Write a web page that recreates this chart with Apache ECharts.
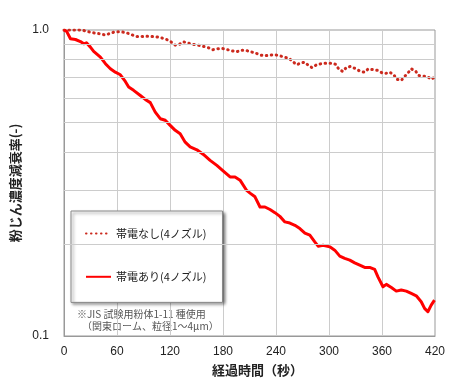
<!DOCTYPE html>
<html><head><meta charset="utf-8">
<script src="https://cdn.jsdelivr.net/npm/echarts@6/dist/echarts.min.js"></script>
<style>html,body{margin:0;padding:0;background:#fff}#c{width:458px;height:392px}</style>
</head><body><div id="c"></div>
<script>
// 帯電あり(4ノズル) — time (s) and decay ratio
const chargedTimes = [0,3,7.3,13,18.6,22.4,25.4,29.9,33.6,41.2,46.9,52.5,58.1,63.8,69.4,73.2,78.8,86.4,92,97.7,103.3,109,114.6,120.2,125.9,131.5,137.2,142.8,150.4,157.8,165.4,173,180.4,188,193.6,199.3,206.8,210.6,216.2,221.9,227.5,233.2,238.8,244.4,250.1,255.7,261.4,267,272.7,278.3,283.9,287.7,293.3,300.9,306.5,312.2,317.8,323.5,329.1,334.8,340.4,346,351.7,355.4,361.1,364.9,370.6,376.2,381.8,387.5,393.1,398.8,404.4,408.2,411.9,415.7,419.4];
const chargedValues = [1.0,0.99,0.936,0.931,0.917,0.901,0.908,0.879,0.851,0.815,0.776,0.747,0.728,0.714,0.679,0.651,0.635,0.611,0.593,0.579,0.539,0.513,0.507,0.488,0.470,0.458,0.430,0.415,0.406,0.392,0.375,0.361,0.346,0.331,0.331,0.323,0.299,0.293,0.285,0.264,0.264,0.259,0.253,0.246,0.236,0.234,0.230,0.2245,0.217,0.2136,0.203,0.1966,0.198,0.1956,0.1908,0.1824,0.1793,0.177,0.1734,0.1704,0.1675,0.1675,0.165,0.156,0.1448,0.1475,0.1441,0.1402,0.1413,0.1402,0.1378,0.1353,0.1294,0.1231,0.120,0.1262,0.131];
// 帯電なし(4ノズル)
const unchargedTimes = [0,11.1,16.7,22.4,29.9,35.6,41.2,46.9,52.5,58.1,63.8,70.2,75.9,81.9,87.5,93.1,98.8,104.4,110.1,115.7,121,125.9,130.4,135.3,140.9,146.6,152.2,157.8,163.5,168.5,173.6,179.3,184.3,189.9,195.6,200.4,205.7,210.6,216.2,221.1,226.4,232,237.7,243.3,249,254.6,258.3,263.3,267.8,272.3,276.8,280.9,285.9,291.5,297.2,302.8,307.7,311.4,315.9,319.8,324.6,330.3,335.6,340.4,344.6,349.8,354.8,359.9,363.3,368.6,373.5,376.2,381.8,385.6,389.3,393.1,398,401.7,406.2,411.2,415.7,419.8];
const unchargedValues = [1.0,1.0,1.0,0.996,0.984,0.976,0.972,0.962,0.976,0.987,0.987,0.981,0.967,0.952,0.952,0.954,0.952,0.950,0.943,0.933,0.915,0.892,0.897,0.915,0.906,0.897,0.892,0.884,0.875,0.862,0.868,0.870,0.864,0.855,0.849,0.859,0.859,0.849,0.843,0.830,0.824,0.826,0.830,0.826,0.815,0.809,0.791,0.770,0.779,0.785,0.766,0.753,0.770,0.776,0.779,0.779,0.772,0.742,0.732,0.756,0.760,0.747,0.732,0.728,0.747,0.742,0.738,0.725,0.720,0.728,0.714,0.691,0.684,0.705,0.723,0.747,0.734,0.710,0.707,0.705,0.690,0.702];
const xTicks = [0,60,120,180,240,300,360,420];
const minorGridValues = [0.2,0.3,0.4,0.5,0.6,0.7,0.8,0.9];
const seriesNames = ['帯電なし(4ノズル)','帯電あり(4ノズル)'];
const noteLines = ['※JIS 試験用粉体1-11 種使用','（関東ローム、粒径1～4μm）'];

const zip = (a,b)=>a.map((t,i)=>[t,b[i]]);
const FONT = "'Liberation Sans','Noto Sans CJK JP',sans-serif";
const chart = echarts.init(document.getElementById('c'));
chart.setOption({
  animation:false,
  backgroundColor:'#fff',
  grid:{left:64,right:23,top:30,bottom:56,show:true,borderColor:'#999',borderWidth:1,backgroundColor:'transparent'},
  xAxis:{type:'value',min:0,max:420,interval:60,
    axisLine:{show:true,lineStyle:{color:'#999'}},axisTick:{show:false},
    axisLabel:{color:'#222',fontSize:12,fontFamily:FONT,margin:10,formatter:v=>xTicks.includes(v)?String(v):''},
    splitLine:{show:true,lineStyle:{color:'#cccccc',width:1}},
    name:'経過時間（秒）',nameLocation:'middle',nameGap:28,
    nameTextStyle:{color:'#222',fontSize:13,fontWeight:'bold',fontFamily:"'Noto Sans CJK JP',sans-serif",padding:[0,0,0,16]}},
  yAxis:{type:'log',logBase:10,min:0.1,max:1,
    axisLine:{show:true,lineStyle:{color:'#999'}},axisTick:{show:false},
    axisLabel:{color:'#222',fontSize:12,fontFamily:FONT,margin:15,formatter:v=>Number(v).toFixed(1)},
    splitLine:{show:false},minorSplitLine:{show:false},
    name:'粉じん濃度減衰率(-)',nameLocation:'middle',nameGap:27,
    nameTextStyle:{color:'#222',fontSize:13,fontWeight:'bold',fontFamily:"'Noto Sans CJK JP',sans-serif"}},
  legend:{orient:'vertical',left:71,top:211,padding:[17,16,20,14],itemGap:32,itemWidth:25,itemHeight:14,
    data:seriesNames,selectedMode:false,
    itemStyle:{opacity:0},
    backgroundColor:'#fff',borderColor:'#888',borderWidth:1,
    shadowColor:'rgba(0,0,0,0.45)',shadowBlur:3,shadowOffsetX:2,shadowOffsetY:2,
    textStyle:{color:'#222',fontSize:11,fontFamily:"'Noto Sans CJK JP',sans-serif"}},
  graphic:[
    {type:'text',left:77,top:309,style:{text:noteLines[0],fill:'#555',font:"10px 'Noto Sans CJK JP',sans-serif"}},
    {type:'text',left:82,top:321,style:{text:noteLines[1],fill:'#555',font:"10px 'Noto Sans CJK JP',sans-serif"}}
  ],
  series:[
    {type:'line',name:'grid',data:[],z:1,silent:true,
      markLine:{silent:true,symbol:'none',label:{show:false},animation:false,
        lineStyle:{color:'#cccccc',type:'solid',width:1},
        data:minorGridValues.map(v=>({yAxis:v}))}},
    {type:'line',name:seriesNames[0],data:zip(unchargedTimes,unchargedValues),showSymbol:false,symbol:'none',z:3,
      lineStyle:{color:'#CC2A1E',width:3,type:[0.5,4.5],cap:'round'},itemStyle:{color:'#CC2A1E'}},
    {type:'line',name:seriesNames[1],data:zip(chargedTimes,chargedValues),showSymbol:false,symbol:'none',z:4,
      lineStyle:{color:'#FF0000',width:3,join:'round'},itemStyle:{color:'#FF0000'}}
  ]
});
</script></body></html>
